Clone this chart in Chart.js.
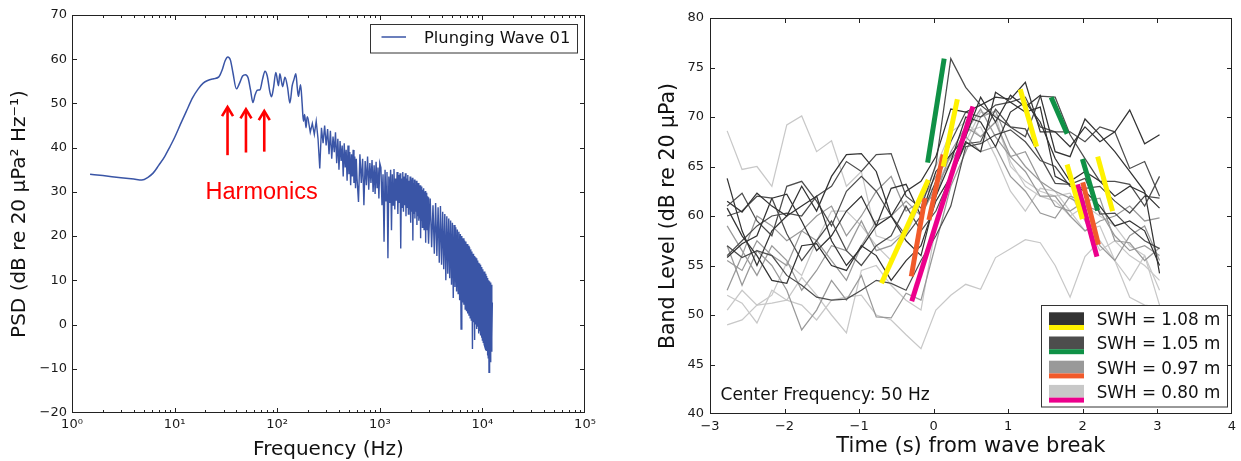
<!DOCTYPE html>
<html><head><meta charset="utf-8">
<script src="https://cdn.jsdelivr.net/npm/chart.js@4.4.0/dist/chart.umd.min.js"></script>
<style>
html,body{margin:0;padding:0;background:#fff;}
#w{position:relative;width:1241px;height:461px;overflow:hidden;background:#fff;}
#c1{position:absolute;left:0;top:0;}
#c2{position:absolute;left:620px;top:0;}
</style></head><body>
<div id="w"><canvas id="c1" width="620" height="461"></canvas><canvas id="c2" width="621" height="461"></canvas></div>
<script>
// ---------------- LEFT PANEL DATA (PSD) ----------------
const smoothFreq = [1.5,2,3,4,4.8,5.5,6.2,7,8,9,10,11.5,13,15,17,19,21,24,27,29,31,33,35,37,40,43,46,49,52,55,58,61,64,68,72,76,80,85,88,92,97,103,106,110,113,119,126,133,140,146,152,157,161,165,169,175,180,185,191,196];
const smoothLevel = [34.0,33.7,33.2,32.9,32.7,33.3,34.3,36.0,38.0,40.2,42.3,45.5,48.2,51.3,53.3,54.6,55.2,55.6,56.0,57.5,59.6,60.5,59.8,57.0,53.3,54.6,56.2,56.5,55.8,53.0,50.2,52.0,53.0,53.1,55.5,57.3,56.2,52.5,51.5,53.5,57.0,54.0,56.7,55.0,53.8,55.9,53.7,50.1,54.0,55.5,56.7,53.5,51.6,53.0,54.2,50.0,46.0,47.5,44.5,47.0];

const bandFreqA = [200,210,220,230,240,250,260,270,280,290,300,310,320,330,340,350,360,370,380,390,400,410,420,430,440,450,460,470,480,490,500,510,520,530,540,550,560,570,580,590,600];
const bandLevelA = [46.5,43.5,45.5,43,46,42,35.3,44.5,41,45,40.5,44.2,38.5,43.8,37.5,42.5,39,43.5,36.5,42,35,41.5,37,40.5,33.5,41,35.5,39.5,32.5,40.5,34,39,31.5,38.5,33.5,39.5,32,38,30.8,37.5,33];
const bandFreqB = [620,640,660,680,700,720,740,760,780,800,820,840,860,880,900,920,940,960,980,1000];
const bandLevelB = [27.7,38.5,32,37.5,27,37,31.5,38,30.5,36.5,32,37.2,30,36,29.5,36.8,31,35.5,28.5,36.5];
const bandFreqC = [1025,1050,1075,1100,1125,1150,1175,1200,1225,1250,1275,1300,1325,1350,1375,1400,1425,1450,1475,1500,1525,1550,1575,1600,1625,1650,1675,1700,1725,1750,1775,1800,1825,1850,1875,1900,1925,1950,1975,2000,2025,2050,2075,2100,2125,2150,2175,2200,2225,2250,2275,2300,2325,2350,2375,2400,2425,2450,2475,2500,2525,2550,2575,2600,2625,2650,2675,2700,2725,2750,2775,2800,2825,2850,2875,2900,2925,2950,2975,3000];
const bandLevelC = [35.5,27,34,18.7,35,28,34.5,15,33.5,27.5,35,21.3,34,27,35.2,26,33,28,34.5,25,33.8,27.5,34.2,17.2,33,26.5,34.5,25.5,33.5,27,34.2,24.5,33,26.5,33.8,25,32.5,26,33.5,23,32.8,25.5,33.2,19,32,25,32.8,24,31.5,25.5,32.5,22.5,31.8,24.5,32,23.5,31,24,31.5,19.5,30.8,23.5,31.2,22,30.5,23.5,30.8,21.5,30,23,30.2,18.5,29.5,22.5,29.8,21.5,29,22,28.8,18.3];
const bandFreqD = [3100,3200,3300,3400,3500,3600,3700,3800,3900,4000,4100,4200,4300,4400,4500,4600,4700,4800,4900,5000,5100,5200,5300,5400,5500,5600,5700,5800,5900,6000,6100,6200,6300,6400,6500,6600,6700,6800,6900,7000,7100,7200,7300,7400,7500,7600,7700,7800,7900,8000,8100,8200,8300,8400,8500,8600,8700,8800,8900,9000,9100,9200,9300,9400,9500,9600,9700,9800,9900,10000,10100,10200,10300,10400,10500,10600,10700,10800,10900,11000,11100,11200,11300,11400,11500,11600,11700,11800,11900,12000,12100,12200,12300,12400,12500];
const bandLevelD = [28.5,17.5,27,16,27.5,15.5,26.5,14,26.8,13.5,25.5,12.5,25,10,24.5,11.5,24,10.5,23.5,9,23,6,22.5,8.5,22,7.5,21.5,7,21,5.5,20.5,-1,20,5,19.5,4.5,19,3.5,18.8,3,18.2,2.5,17.8,2,17.5,1.5,17,1,16.5,-5.5,16,0.5,15.5,-3.5,15.2,0,15,-1,14.5,-0.5,14,-2,13.8,-1.5,13.5,-2.5,13,-3,12.8,-3.5,12.5,-4,12,-4.5,12,-5,11.5,-5.8,11,-6,10.5,-7,10.2,-7.5,10,-10.8,9.8,-8,9.5,-8.5,9.2,-6,9,-3,5];

const freqTickValues = [1,10,100,1000,10000,100000];
const freqTickLabels = ['10\u2070','10\u00b9','10\u00b2','10\u00b3','10\u2074','10\u2075'];
const harmonicFreq = [32.8,49.6,74.8];
const harmonicTip = [49.4,48.9,48.5];
const harmonicTail = [38.3,38.9,39.1];

// ---------------- RIGHT PANEL DATA (Band level) ----------------
const timeS = [-2.77,-2.57,-2.37,-2.17,-1.97,-1.77,-1.57,-1.37,-1.17,-0.97,-0.77,-0.57,-0.37,-0.17,0.03,0.23,0.43,0.63,0.83,1.03,1.23,1.43,1.63,1.83,2.03,2.23,2.43,2.63,2.83,3.03];
const swh108 = [
 [61.5,60.4,62.3,61.0,60.0,63.0,60.5,64.0,66.2,66.3,64.5,60.0,62.5,63.5,66.0,70.8,70.5,71.2,72.0,71.8,73.5,68.5,68.5,67.0,69.0,67.5,68.5,70.7,67.3,68.2],
 [55.8,57.2,58.0,61.8,62.2,59.5,56.5,58.0,60.5,62.0,59.0,62.8,63.2,60.0,64.5,66.2,68.0,72.0,69.5,72.2,71.0,72.2,66.5,66.0,69.8,68.2,66.5,64.5,62.5,54.2],
 [63.8,58.5,55.0,58.5,60.0,61.0,62.0,57.5,55.0,56.8,59.0,60.0,57.5,56.0,62.0,65.5,70.0,69.5,67.0,70.5,71.5,69.5,65.8,63.5,64.5,63.5,62.0,63.0,62.3,60.8],
 [60.8,58.0,56.0,53.5,53.2,57.0,57.2,55.0,54.5,57.0,56.0,53.5,55.5,57.0,61.5,64.0,67.5,66.5,72.5,71.5,70.5,71.0,64.0,63.2,62.5,61.0,59.0,59.5,58.5,55.0]
];
const swh105 = [
 [56.0,57.5,59.0,60.0,60.3,60.0,62.0,63.0,65.5,64.5,66.2,66.3,62.0,60.8,65.2,75.9,73.0,71.2,70.0,69.0,68.0,72.1,72.0,68.2,65.8,63.5,63.5,63.2,61.0,64.0],
 [61.0,62.3,59.5,58.0,63.0,63.5,61.5,59.0,62.5,64.0,62.5,60.0,58.0,60.0,63.5,67.5,70.5,70.0,71.2,71.5,72.0,69.0,68.5,68.5,67.5,69.0,68.5,64.8,65.5,62.0],
 [60.0,60.5,62.0,61.8,58.2,55.5,57.5,59.5,56.5,55.0,57.0,58.0,61.0,58.5,60.5,64.0,67.3,67.5,70.8,69.0,68.8,66.0,63.3,63.2,63.8,60.2,60.3,58.8,57.5,56.7],
 [57.0,55.8,56.5,56.0,54.0,53.0,51.8,51.5,51.6,52.5,53.5,53.2,52.5,55.5,58.0,61.0,67.0,67.3,68.2,68.7,67.5,65.6,65.0,63.0,62.8,63.0,61.5,60.3,62.0,61.8]
];
const swh097 = [
 [57.0,53.0,56.5,55.0,52.5,48.5,50.5,53.5,51.5,54.0,49.8,49.7,52.2,51.5,57.2,63.0,66.5,70.0,70.6,67.0,65.0,63.5,61.0,60.5,61.5,61.8,57.5,57.3,55.5,56.8],
 [55.5,54.5,57.5,56.0,55.0,58.5,57.5,55.5,53.5,57.0,59.5,60.0,61.5,60.0,63.0,65.5,68.0,66.5,67.0,64.0,62.5,60.3,59.8,62.0,61.5,57.0,55.5,58.0,59.0,55.5],
 [52.5,56.0,60.0,59.0,57.5,58.5,60.0,61.0,58.0,60.0,62.5,64.0,60.5,61.5,62.0,66.5,69.0,68.0,69.5,66.0,64.5,62.0,62.0,60.0,58.5,59.5,60.0,61.0,59.5,59.8],
 [59.0,56.5,54.0,57.0,55.5,52.5,54.5,57.0,56.5,59.5,56.5,57.0,58.5,61.5,64.0,66.0,68.5,70.8,68.0,66.0,66.5,63.5,62.5,61.8,61.0,60.5,58.0,56.5,57.0,56.0]
];
const swh080 = [
 [49.0,49.5,51.0,51.2,51.5,51.0,49.5,51.5,51.8,52.0,50.0,49.5,48.0,46.6,50.5,52.0,53.1,52.6,55.8,56.7,57.6,57.3,55.0,51.8,55.9,57.5,55.5,51.8,51.0,50.8],
 [68.6,64.7,65.0,63.0,69.2,70.1,66.5,67.6,63.0,64.5,58.0,57.5,58.5,62.0,63.0,66.0,68.5,69.0,66.0,62.5,60.5,62.8,62.5,60.5,58.5,59.0,55.5,53.5,56.0,52.5],
 [52.0,51.2,49.2,52.5,51.5,53.8,52.0,50.0,48.2,54.5,55.0,53.0,51.5,50.5,59.0,64.5,67.5,70.5,70.2,65.0,63.5,62.5,62.0,62.3,59.5,56.5,57.5,56.0,55.0,53.5],
 [50.5,52.5,51.0,52.0,55.3,54.0,57.5,60.5,60.5,59.0,57.0,55.5,58.0,61.5,65.0,68.5,69.5,68.0,69.5,65.5,63.0,62.0,61.5,60.0,61.0,60.0,59.0,57.0,56.0,51.0]
];
// slope segments: [t0, level0, t1, level1]
const yellowSegs = [[-0.70,53.2,-0.072,63.65],[0.128,65.0,0.318,71.8],[1.161,72.8,1.381,67.0],[1.79,65.2,1.995,59.7],[2.2,66.0,2.4,60.5]];
const greenSegs = [[-0.081,65.4,0.141,75.9],[1.576,72.0,1.79,68.3],[1.995,65.75,2.2,60.56]];
const orangeSegs = [[-0.30,53.9,-0.116,61.8],[-0.063,59.6,0.128,66.2],[2.0,63.4,2.21,57.1]];
const magentaSegs = [[-0.294,51.4,0.527,71.06],[1.93,63.2,2.19,55.9]];
const swhLabels = ['SWH = 1.08 m','SWH = 1.05 m','SWH = 0.97 m','SWH = 0.80 m'];

// ---------------- STYLE ----------------
const FONT = "'DejaVu Sans', sans-serif";
Chart.defaults.font.family = FONT;
Chart.defaults.color = '#1a1a1a';
const BLUE = '#3a55a6';
const greyCols = ['#333333','#4d4d4d','#999999','#c8c8c8'];
const hiCols = ['#fff200','#0f9146','#f15a2b','#ec008c'];

function fmtMinus(v){ return v < 0 ? '\u2212' + Math.abs(v) : String(v); }

function frameAndTicks(minorX){
  return {
    id: 'frameTicks',
    afterDatasetsDraw(chart){
      const {ctx, chartArea: a, scales: {x, y}} = chart;
      const L = Math.round(a.left)+0.5, R = Math.round(a.right)-0.5, T = Math.round(a.top)+0.5, B = Math.round(a.bottom)-0.5;
      ctx.save();
      ctx.strokeStyle = '#222';
      ctx.lineWidth = 1;
      ctx.beginPath();
      x.ticks.forEach(t => { const p = Math.round(x.getPixelForValue(t.value))+0.5; if (p < L+1 || p > R-1) return; ctx.moveTo(p,B); ctx.lineTo(p,B-4.5); ctx.moveTo(p,T); ctx.lineTo(p,T+4.5); });
      (minorX||[]).forEach(v => { const p = Math.round(x.getPixelForValue(v))+0.5; ctx.moveTo(p,B); ctx.lineTo(p,B-2.5); ctx.moveTo(p,T); ctx.lineTo(p,T+2.5); });
      y.ticks.forEach(t => { const p = Math.round(y.getPixelForValue(t.value))+0.5; if (p < T+1 || p > B-1) return; ctx.moveTo(L,p); ctx.lineTo(L+4.5,p); ctx.moveTo(R,p); ctx.lineTo(R-4.5,p); });
      ctx.stroke();
      ctx.strokeRect(L, T, R-L, B-T);
      ctx.restore();
    }
  };
}

// ---------------- LEFT CHART ----------------
const minorLog = [];
[1,10,100,1000,10000].forEach(d => { for (let k=2;k<=9;k++) minorLog.push(d*k); });

const leftExtras = {
  id: 'leftExtras',
  afterDraw(chart){
    const {ctx, scales:{x,y}} = chart;
    ctx.save();
    ctx.strokeStyle = '#ff0000'; ctx.lineWidth = 2.6; ctx.lineJoin = 'miter';
    harmonicFreq.forEach((f,i) => {
      const px = x.getPixelForValue(f), tip = y.getPixelForValue(harmonicTip[i]), tail = y.getPixelForValue(harmonicTail[i]);
      ctx.beginPath(); ctx.moveTo(px, tail); ctx.lineTo(px, tip+1.5); ctx.stroke();
      ctx.beginPath(); ctx.moveTo(px-5.5, tip+10); ctx.lineTo(px, tip+1); ctx.lineTo(px+5.5, tip+10); ctx.stroke();
    });
    ctx.fillStyle = '#ff0000';
    ctx.font = "23.5px 'Liberation Sans', Arial, sans-serif";
    ctx.textAlign = 'center'; ctx.textBaseline = 'alphabetic';
    ctx.fillText('Harmonics', x.getPixelForValue(70.6), y.getPixelForValue(28.5));
    ctx.fillStyle = '#fff'; ctx.fillRect(370.5, 24.5, 207, 28.5);
    ctx.strokeStyle = '#333'; ctx.lineWidth = 1; ctx.strokeRect(370.5, 24.5, 207, 28.5);
    ctx.strokeStyle = BLUE; ctx.lineWidth = 1.5;
    ctx.beginPath(); ctx.moveTo(381.5, 37); ctx.lineTo(406, 37); ctx.stroke();
    ctx.fillStyle = '#111'; ctx.font = "16.3px " + FONT; ctx.textAlign = 'left';
    ctx.fillText('Plunging Wave 01', 424, 42.5);
    ctx.restore();
  }
};

const toXY = (fs, vs) => fs.map((f,i) => ({x:f, y:vs[i]}));
const bandFreq = bandFreqA.concat(bandFreqB, bandFreqC, bandFreqD);
const bandLevel = bandLevelA.concat(bandLevelB, bandLevelC, bandLevelD);

new Chart(document.getElementById('c1'), {
  type: 'line',
  data: { datasets: [
    { label:'Plunging Wave 01', data: toXY(smoothFreq, smoothLevel).concat([{x:bandFreq[0], y:bandLevel[0]}]), borderColor: BLUE, borderWidth: 1.5, pointRadius: 0, cubicInterpolationMode: 'monotone' },
    { label:'band', data: toXY(bandFreq, bandLevel), borderColor: BLUE, borderWidth: 1.4, pointRadius: 0, tension: 0 }
  ]},
  options: {
    responsive:false, animation:false, devicePixelRatio:1,
    layout: { padding: { left:0, top:15, right:35, bottom:0 } },
    plugins: { legend:{display:false}, tooltip:{enabled:false} },
    scales: {
      x: { type:'logarithmic', min:1, max:100000,
        afterBuildTicks: s => { s.ticks = freqTickValues.map(v => ({value:v})); },
        afterFit: s => { s.height = 48; },
        grid:{display:false, drawTicks:false}, border:{display:false},
        ticks:{ autoSkip:false, maxRotation:0, padding:4, font:{size:13}, callback:(v,i) => freqTickLabels[i] },
        title:{ display:true, text:'Frequency (Hz)', font:{size:20, lineHeight:1}, padding:{top:0,bottom:1}, color:'#111' } },
      y: { type:'linear', min:-20, max:70,
        afterFit: s => { s.width = 72; },
        grid:{display:false, drawTicks:false}, border:{display:false},
        ticks:{ stepSize:10, padding:5, font:{size:13}, callback: v => fmtMinus(v) },
        title:{ display:true, text:'PSD (dB re 20 \u03bcPa\u00b2 Hz\u207b\u00b9)', font:{size:20, lineHeight:1}, padding:{top:10,bottom:0}, color:'#111' } }
    }
  },
  plugins: [frameAndTicks(minorLog), leftExtras]
});

// ---------------- RIGHT CHART ----------------
const rightExtras = {
  id: 'rightExtras',
  afterDraw(chart){
    const {ctx, scales:{x,y}} = chart;
    ctx.save();
    ctx.fillStyle = '#111'; ctx.font = "17px " + FONT; ctx.textAlign='left'; ctx.textBaseline='alphabetic';
    ctx.fillText('Center Frequency: 50 Hz', x.getPixelForValue(-2.859), y.getPixelForValue(41.38));
    const bx = 421.5, by = 305.5, bw = 186, bh = 101.5;
    ctx.fillStyle = '#fff'; ctx.fillRect(bx, by, bw, bh);
    ctx.strokeStyle = '#333'; ctx.lineWidth = 1; ctx.strokeRect(bx, by, bw, bh);
    ctx.font = "16.8px " + FONT;
    swhLabels.forEach((lab,i) => {
      const y0 = 312.3 + 24.2*i;
      ctx.fillStyle = greyCols[i]; ctx.fillRect(429, y0, 35, 12.7);
      ctx.fillStyle = hiCols[i]; ctx.fillRect(429, y0+12.7, 35, 5);
      ctx.fillStyle = '#111'; ctx.fillText(lab, 476.7, y0 + 12.9);
    });
    ctx.restore();
  }
};

const rightSets = [];
[swh080, swh097, swh105, swh108].forEach((grp, gi) => {
  const col = greyCols[3-gi];
  grp.forEach(run => rightSets.push({ data: run.map((v,i) => ({x:timeS[i], y:v})), borderColor: col, borderWidth: 1.25, pointRadius:0, tension:0, order: 4-gi }));
});
[[yellowSegs,0],[greenSegs,1],[orangeSegs,2],[magentaSegs,3]].forEach(([segs,ci]) => {
  segs.forEach(s => rightSets.push({ data:[{x:s[0],y:s[1]},{x:s[2],y:s[3]}], borderColor: hiCols[ci], borderWidth: 5, borderCapStyle:'butt', pointRadius:0, tension:0, order:0 }));
});

new Chart(document.getElementById('c2'), {
  type: 'line',
  data: { datasets: rightSets },
  options: {
    responsive:false, animation:false, devicePixelRatio:1,
    layout: { padding: { left:0, top:18, right:4, bottom:0 } },
    plugins: { legend:{display:false}, tooltip:{enabled:false} },
    scales: {
      x: { type:'linear', min:-3, max:4,
        afterFit: s => { s.height = 47; },
        grid:{display:false, drawTicks:false}, border:{display:false},
        ticks:{ stepSize:1, autoSkip:false, maxRotation:0, padding:5, font:{size:13}, callback: v => fmtMinus(v) },
        title:{ display:true, text:'Time (s) from wave break', font:{size:21, lineHeight:1}, padding:{top:0,bottom:3.5}, color:'#111' } },
      y: { type:'linear', min:40, max:80,
        afterFit: s => { s.width = 90; },
        grid:{display:false, drawTicks:false}, border:{display:false},
        ticks:{ stepSize:5, padding:6, font:{size:13}, callback: v => fmtMinus(v) },
        title:{ display:true, text:'Band Level (dB re 20 \u03bcPa)', font:{size:20.5, lineHeight:1}, padding:{top:38.5,bottom:0}, color:'#111' } }
    }
  },
  plugins: [frameAndTicks(null), rightExtras]
});
</script>
</body></html>
